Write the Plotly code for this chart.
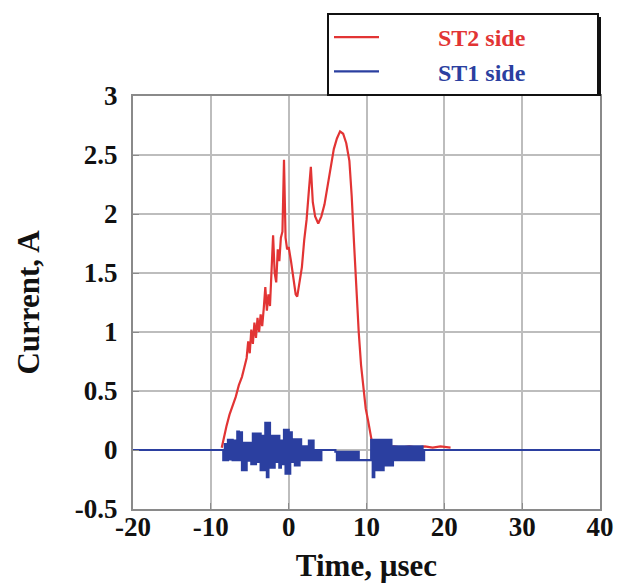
import plotly.graph_objects as go

# ---- ST2 side (red) ----
st2_time = [-8.6, -8.3, -8.0, -7.6, -7.2, -6.8, -6.4, -6.0, -5.7, -5.4, -5.2, -5.0, -4.8, -4.6,
            -4.4, -4.2, -4.0, -3.8, -3.6, -3.4, -3.2, -3.0, -2.8, -2.6, -2.4, -2.2, -2.0, -1.8,
            -1.6, -1.4, -1.2, -1.0, -0.8, -0.6, -0.5, -0.4, -0.2, 0.0, 0.3, 0.6, 0.9, 1.1, 1.4,
            1.7, 2.0, 2.3, 2.6, 2.85, 3.1, 3.4, 3.8, 4.2, 4.6, 5.0, 5.4, 5.8, 6.2, 6.6, 7.0, 7.4,
            7.8, 8.1, 8.4, 8.7, 9.0, 9.3, 9.6, 9.9, 10.2, 10.5, 10.8, 11.5, 12.5, 13.5, 14.5,
            15.5, 16.5, 17.5, 18.5, 19.5, 20.8]
st2_current = [0.02, 0.12, 0.20, 0.30, 0.38, 0.45, 0.55, 0.62, 0.70, 0.78, 0.92, 0.82, 1.02, 0.90,
               1.08, 0.95, 1.12, 1.00, 1.15, 1.05, 1.20, 1.38, 1.18, 1.32, 1.22, 1.55, 1.82, 1.50,
               1.42, 1.70, 1.60, 1.80, 1.85, 2.46, 2.10, 1.80, 1.70, 1.72, 1.60, 1.45, 1.32, 1.30, 1.42,
               1.55, 1.78, 1.95, 2.20, 2.40, 2.10, 1.98, 1.92, 1.98, 2.08, 2.25, 2.42, 2.55, 2.64, 2.70,
               2.68, 2.60, 2.45, 2.15, 1.75, 1.35, 1.00, 0.72, 0.52, 0.35, 0.25, 0.12, 0.03, 0.03, 0.02,
               0.03, 0.02, 0.03, 0.02, 0.03, 0.02, 0.03, 0.02]

# ---- ST1 side (blue) ----
st1_time = [-20.0, -8.8,
            -8.6, -8.4, -8.2, -8.0, -7.8, -7.6, -7.4, -7.2, -7.0, -6.8, -6.6, -6.4, -6.2, -6.0,
            -5.8, -5.6, -5.4, -5.2, -5.0, -4.8, -4.6, -4.4, -4.2, -4.0, -3.8, -3.6, -3.4, -3.2,
            -3.0, -2.8, -2.6, -2.4, -2.2, -2.0, -1.8, -1.6, -1.4, -1.2, -1.0, -0.8, -0.6, -0.4,
            -0.2, 0.0, 0.2, 0.4, 0.6, 0.8, 1.0, 1.2, 1.4, 1.6, 1.8, 2.0, 2.2, 2.4, 2.6, 2.8,
            3.0, 3.2, 3.4, 3.6, 3.8, 4.0, 4.2, 4.4,
            6.0, 6.2, 6.4, 6.6, 6.8, 7.0, 7.2, 7.4, 7.6, 7.8, 8.0, 8.2, 8.4, 8.6, 8.8, 9.0, 9.2,
            10.6, 10.8, 11.0, 11.2, 11.4, 11.6, 11.8, 12.0, 12.2, 12.4, 12.6, 12.8, 13.0, 13.2,
            13.4, 13.6, 13.8, 14.0, 14.2, 14.4, 14.6, 14.8, 15.0, 15.2, 15.4, 15.6, 15.8, 16.0,
            16.2, 16.4, 16.6, 16.8, 17.0, 17.2, 17.4, 40.0]
st1_current = [0.0, 0.0,
               0.0, -0.085, 0.05, -0.085, 0.085, -0.08, 0.085, -0.085, 0.08, -0.085, 0.155, -0.085,
               0.15, -0.17, 0.06, -0.17, 0.06, -0.09, 0.06, -0.12, 0.14, -0.12, 0.14, -0.10, 0.14,
               -0.17, 0.12, -0.17, 0.23, -0.23, 0.23, -0.15, 0.12, -0.15, 0.12, -0.10, 0.12, -0.15,
               0.08, -0.12, 0.17, -0.20, 0.17, -0.20, 0.15, -0.10, 0.09, -0.13, 0.09, -0.13, 0.09,
               -0.085, 0.03, -0.085, 0.03, -0.085, 0.08, -0.085, 0.08, -0.085, 0.0, -0.085, 0.0,
               -0.085, 0.0, 0.0,
               -0.015, -0.085, -0.015, -0.085, -0.015, -0.085, -0.015, -0.085, -0.015, -0.085,
               -0.015, -0.085, -0.015, -0.085, -0.015, -0.085, -0.085,
               0.085, -0.23, 0.085, -0.17, 0.085, -0.17, 0.085, -0.17, 0.085, -0.13, 0.085, -0.13,
               0.085, -0.13, 0.03, -0.085, 0.03, -0.085, 0.03, -0.085, 0.03, -0.085, 0.03, -0.085,
               0.03, -0.085, 0.03, -0.085, 0.03, -0.085, 0.03, -0.085, 0.03, -0.085, 0.0, 0.0]

x_ticks = [-20, -10, 0, 10, 20, 30, 40]
y_ticks = [-0.5, 0, 0.5, 1, 1.5, 2, 2.5, 3]

RED = "#e23434"
BLUE = "#2b3fa0"
FONT = "Liberation Serif"
PAD_L = "&nbsp;" * 9
PAD_R = "&nbsp;" * 11

W, H = 615, 579
ML, MR, MT, MB = 125, 23, 88, 78
PW, PH = W - ML - MR, H - MT - MB

fig = go.Figure()
fig.add_trace(go.Scatter(
    x=st2_time, y=st2_current, mode="lines",
    line=dict(color=RED, width=2.2),
    name=PAD_L + f"<span style='color:{RED}'><b>ST2 side</b></span>" + PAD_R,
))
fig.add_trace(go.Scatter(
    x=st1_time, y=st1_current, mode="lines", line_shape="hv",
    line=dict(color=BLUE, width=2.2),
    name=PAD_L + f"<span style='color:{BLUE}'><b>ST1 side</b></span>" + PAD_R,
))

axis_common = dict(
    showgrid=True, gridcolor="#bdbdbd", gridwidth=2,
    showline=True, linecolor="#8a8a8a", linewidth=2, mirror=True,
    zeroline=False, ticks="inside", ticklen=6, tickcolor="#8a8a8a",
    tickfont=dict(family=FONT, size=27, color="#111111"),
)

# legend box in pixels (figure coords): left 319, top 5, right 589, bottom 84
sh = 4
shadow = dict(type="rect", xref="paper", yref="paper",
              x0=(319 + sh - ML) / PW, x1=(589 + sh - ML) / PW,
              y0=(PH - (84 + sh - MT)) / PH, y1=(PH - (5 + sh - MT)) / PH,
              fillcolor="#111111", line=dict(width=0), layer="above")

fig.update_layout(
    width=W, height=H,
    margin=dict(l=ML, r=MR, t=MT, b=MB, autoexpand=False),
    paper_bgcolor="white", plot_bgcolor="white",
    font=dict(family=FONT, size=26, color="#111111"),
    xaxis=dict(range=[-20, 40], tickvals=x_ticks,
               ticktext=[f"<b>{v}</b>" for v in x_ticks],
               ticklabelstandoff=-7,
               title=dict(text="<b>Time, µsec</b>", font=dict(family=FONT, size=31), standoff=13),
               **axis_common),
    yaxis=dict(range=[-0.5, 3], tickvals=y_ticks,
               ticktext=[f"<b>{v:g}</b>" for v in y_ticks],
               ticklabelstandoff=8,
               title=dict(text="<b>Current, A</b>", font=dict(family=FONT, size=31), standoff=26),
               **axis_common),
    legend=dict(
        x=(319 - ML) / PW, y=(PH - (5 - MT)) / PH, xanchor="left", yanchor="top",
        bgcolor="white", bordercolor="#111111", borderwidth=2,
        font=dict(family=FONT, size=24),
        itemwidth=45,
    ),
    shapes=[shadow],
    showlegend=True,
)

fig.write_html("out.html")
